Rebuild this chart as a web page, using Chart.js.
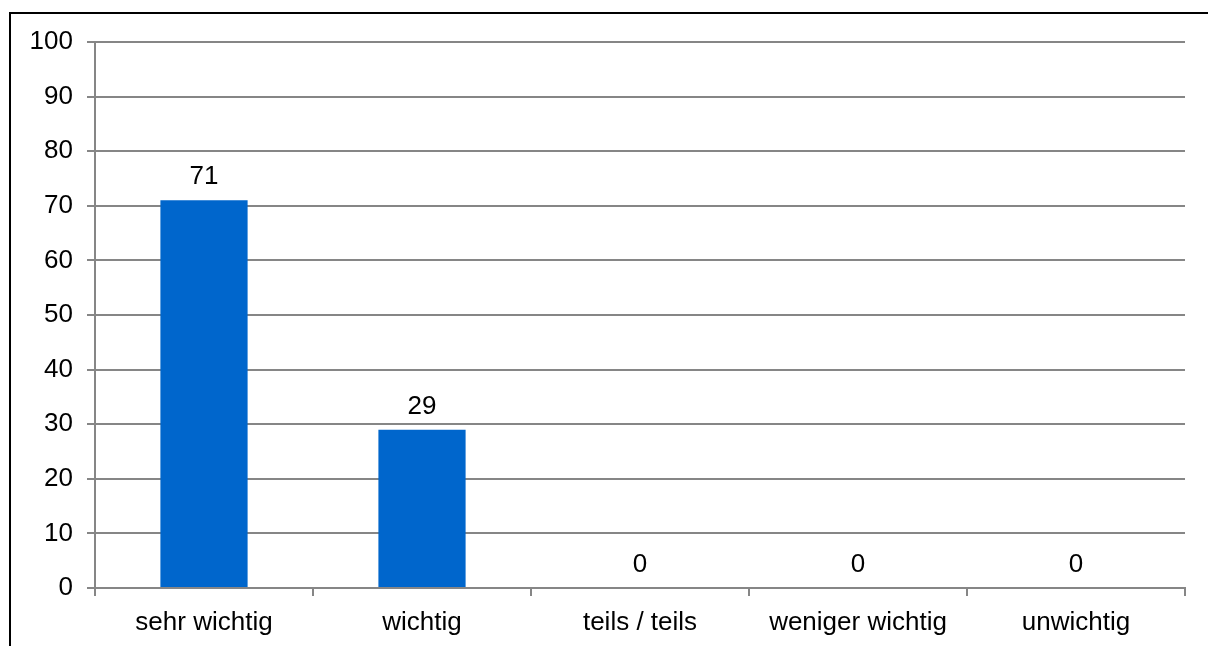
<!DOCTYPE html>
<html>
<head>
<meta charset="utf-8">
<script src="https://cdn.jsdelivr.net/npm/chart.js@4/dist/chart.umd.min.js"></script>
<style>
  html, body { margin: 0; padding: 0; background: #fff; }
  #wrap { position: relative; width: 1208px; height: 646px; overflow: hidden; }
  #frame { position: absolute; left: 9px; top: 12px; width: 1400px; height: 900px;
           border-left: 2px solid #000; border-top: 2px solid #000; pointer-events: none; }
  canvas { position: absolute; left: 0; top: 0; }
</style>
</head>
<body>
<div id="wrap">
  <canvas id="c" width="1208" height="646"></canvas>
  <div id="frame"></div>
</div>
<script>
const categories = ["sehr wichtig", "wichtig", "teils / teils", "weniger wichtig", "unwichtig"];
const values = [71, 29, 0, 0, 0];
const yTicks = [0, 10, 20, 30, 40, 50, 60, 70, 80, 90, 100];

const FONT = "'Liberation Sans', Arial, Helvetica, sans-serif";
const GRID = "#868686";
const FSIZE = 26;

const valueLabels = {
  id: "valueLabels",
  afterDatasetsDraw(chart) {
    const ctx = chart.ctx;
    ctx.save();
    ctx.font = FSIZE + "px " + FONT;
    ctx.fillStyle = "#000";
    ctx.textAlign = "center";
    ctx.textBaseline = "alphabetic";
    chart.data.datasets.forEach((ds, di) => {
      chart.getDatasetMeta(di).data.forEach((el, i) => {
        ctx.fillText(String(ds.data[i]), el.x, el.y - 16);
      });
    });
    ctx.restore();
  }
};

new Chart(document.getElementById("c"), {
  type: "bar",
  data: {
    labels: categories,
    datasets: [{
      data: values,
      backgroundColor: "#0066CC",
      borderWidth: 0,
      barPercentage: 0.4,
      categoryPercentage: 1.0
    }]
  },
  options: {
    responsive: false,
    animation: false,
    devicePixelRatio: 1,
    layout: { padding: { top: 42, right: 23, left: 0, bottom: 0 } },
    plugins: { legend: { display: false }, tooltip: { enabled: false } },
    scales: {
      x: {
        offset: true,
        grid: { display: true, drawOnChartArea: false, drawTicks: true, tickLength: 8, color: GRID, lineWidth: 2, offset: true },
        border: { display: true, color: GRID, width: 2 },
        ticks: { color: "#000", font: { family: FONT, size: FSIZE }, padding: 11, maxRotation: 0 },
        afterFit(scale) { scale.height = 58; }
      },
      y: {
        min: 0, max: 100,
        afterBuildTicks(scale) { scale.ticks = yTicks.map(v => ({ value: v })); },
        grid: { color: GRID, lineWidth: 2, tickLength: 8 },
        border: { display: true, color: GRID, width: 2 },
        ticks: { color: "#000", font: { family: FONT, size: FSIZE }, padding: 14 },
        afterFit(scale) { scale.width = 95; }
      }
    }
  },
  plugins: [valueLabels]
});
</script>
</body>
</html>
